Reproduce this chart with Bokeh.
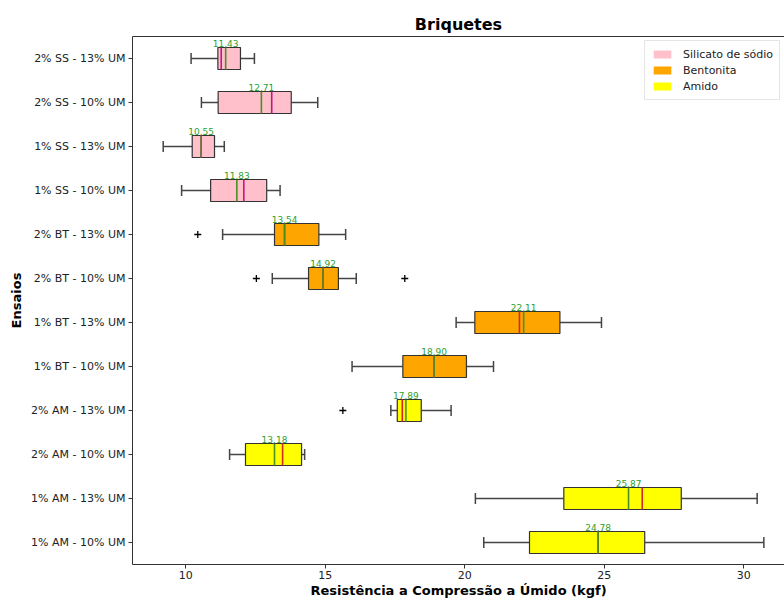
from bokeh.plotting import figure
from bokeh.models import ColumnDataSource, Range1d, FixedTicker, LinearAxis, Legend, LegendItem
from bokeh.core.properties import value
from bokeh.embed import file_html
from bokeh.resources import INLINE

# ---- data (bottom to top) ----
ensaios = ["1% AM - 10% UM", "1% AM - 13% UM", "2% AM - 10% UM", "2% AM - 13% UM",
           "1% BT - 10% UM", "1% BT - 13% UM", "2% BT - 10% UM", "2% BT - 13% UM",
           "1% SS - 10% UM", "1% SS - 13% UM", "2% SS - 10% UM", "2% SS - 13% UM"]
grupos = ["Amido", "Amido", "Amido", "Amido",
          "Bentonita", "Bentonita", "Bentonita", "Bentonita",
          "Silicato de sódio", "Silicato de sódio", "Silicato de sódio", "Silicato de sódio"]
whisk_lo = [20.68, 20.38, 11.57, 17.35, 15.96, 19.69, 13.10, 11.32, 9.85, 9.19, 10.56, 10.19]
q1 = [22.32, 23.55, 12.14, 17.58, 17.78, 20.36, 14.40, 13.18, 10.89, 10.23, 11.16, 11.15]
q3 = [26.45, 27.76, 14.15, 18.44, 20.06, 23.41, 15.47, 14.77, 12.90, 11.03, 13.78, 11.96]
whisk_hi = [30.72, 30.48, 14.26, 19.51, 21.03, 24.90, 16.11, 15.73, 13.38, 11.38, 14.73, 12.46]
medianas = [24.78, 26.36, 13.47, 17.76, 18.90, 21.96, 14.92, 13.54, 12.08, 10.55, 13.08, 11.27]
medias = [24.78, 25.87, 13.18, 17.89, 18.90, 22.11, 14.92, 13.54, 11.83, 10.55, 12.71, 11.43]
outlier_ensaio = ["2% AM - 13% UM", "2% BT - 10% UM", "2% BT - 10% UM", "2% BT - 13% UM"]
outlier_val = [15.63, 12.53, 17.85, 10.43]

legend_names = ["Silicato de sódio", "Bentonita", "Amido"]
fill_colors = {"Silicato de sódio": "#ffc0cb", "Bentonita": "#ffa500", "Amido": "#ffff00"}
median_colors = {"Silicato de sódio": "#c71585", "Bentonita": "#d62728", "Amido": "#d62728"}

FONT = "DejaVu Sans"

pos = [i + 1 for i in range(len(ensaios))]
pos_of = {e: p for e, p in zip(ensaios, pos)}

src = ColumnDataSource(dict(
    y=pos,
    y_lo=[p - 0.25 for p in pos],
    y_hi=[p + 0.25 for p in pos],
    cap_lo=[p - 0.125 for p in pos],
    cap_hi=[p + 0.125 for p in pos],
    wl=whisk_lo, q1=q1, q3=q3, wh=whisk_hi,
    med=medianas, mean=medias,
    fill=[fill_colors[g] for g in grupos],
    medc=[median_colors[g] for g in grupos],
    lab=["%.2f" % m for m in medias],
))
out_src = ColumnDataSource(dict(x=outlier_val, y=[pos_of[e] for e in outlier_ensaio]))

p = figure(width=784, height=600, x_range=Range1d(8.09, 31.46), y_range=Range1d(0.5, 12.5),
           output_backend="svg", toolbar_location=None, title="Briquetes",
           min_border_left=132, min_border_right=0, min_border_top=36, min_border_bottom=0)

p.title.align = "center"
p.title.text_font = FONT
p.title.text_font_size = "16px"
p.title.text_font_style = "bold"
p.title.text_color = "black"
p.title.standoff = 6

p.grid.visible = False
p.outline_line_color = None
p.background_fill_color = "white"
p.border_fill_color = "white"

# whiskers
wcol = "#444444"
p.segment(x0="wl", x1="q1", y0="y", y1="y", source=src, line_color=wcol, line_width=1.5)
p.segment(x0="q3", x1="wh", y0="y", y1="y", source=src, line_color=wcol, line_width=1.5)
p.segment(x0="wl", x1="wl", y0="cap_lo", y1="cap_hi", source=src, line_color=wcol, line_width=1.5)
p.segment(x0="wh", x1="wh", y0="cap_lo", y1="cap_hi", source=src, line_color=wcol, line_width=1.5)

# boxes
p.hbar(y="y", left="q1", right="q3", height=0.5, source=src, fill_color="fill",
       line_color="#333333", line_width=1.2)

# median and mean lines
p.segment(x0="med", x1="med", y0="y_lo", y1="y_hi", source=src, line_color="medc", line_width=1.6)
p.segment(x0="mean", x1="mean", y0="y_lo", y1="y_hi", source=src, line_color="#4c8f24", line_width=1.6)

# outliers
p.scatter(x="x", y="y", source=out_src, marker="cross", size=7, line_color="black", line_width=1.3)

# mean labels
p.text(x="mean", y="y_hi", text="lab", source=src, text_font=value(FONT), text_font_size="9px",
       text_color="#2ca02c", text_align="center", text_baseline="bottom", y_offset=-1)

# legend (swatches without outline)
items = []
for name in legend_names:
    r = p.hbar(y=[float("nan")], left=[float("nan")], right=[float("nan")], height=0.5,
               fill_color=fill_colors[name], line_color=None)
    items.append(LegendItem(label=name, renderers=[r], index=0))
legend = Legend(items=items, location="top_right")
legend.label_text_font = FONT
legend.label_text_font_size = "11px"
legend.label_text_color = "#222222"
legend.glyph_width = 22
legend.glyph_height = 10
legend.spacing = 2
legend.padding = 6
legend.margin = 4
legend.label_height = 14
legend.label_standoff = 10
legend.border_line_color = "#cccccc"
legend.background_fill_alpha = 0.9
p.add_layout(legend, "center")

# axes
xa = p.xaxis[0]
xa.ticker = FixedTicker(ticks=[10, 15, 20, 25, 30])
xa.axis_label = "Resistência a Compressão a Úmido (kgf)"
ya = p.yaxis[0]
ya.ticker = FixedTicker(ticks=pos)
ya.major_label_overrides = {pp: e for pp, e in zip(pos, ensaios)}
ya.axis_label = "Ensaios"
for ax in (xa, ya):
    ax.axis_label_text_font = FONT
    ax.axis_label_text_font_size = "13px"
    ax.axis_label_text_font_style = "bold"
    ax.axis_label_text_color = "black"
    ax.major_label_text_font = FONT
    ax.major_label_text_font_size = "11px"
    ax.major_label_text_color = "#222222"
    ax.axis_line_color = "#333333"
    ax.major_tick_line_color = "#333333"
    ax.major_tick_out = 4
    ax.major_tick_in = 0
    ax.minor_tick_line_color = None
    ax.major_label_standoff = 3
    ax.axis_label_standoff = 4
xa.major_label_standoff = 2
xa.axis_label_standoff = 1

top = LinearAxis(ticker=FixedTicker(ticks=[]), major_label_text_font_size="0px",
                 major_tick_line_color=None, minor_tick_line_color=None,
                 axis_line_color="#333333")
p.add_layout(top, "above")

open("out.html", "w").write(file_html(p, INLINE))
